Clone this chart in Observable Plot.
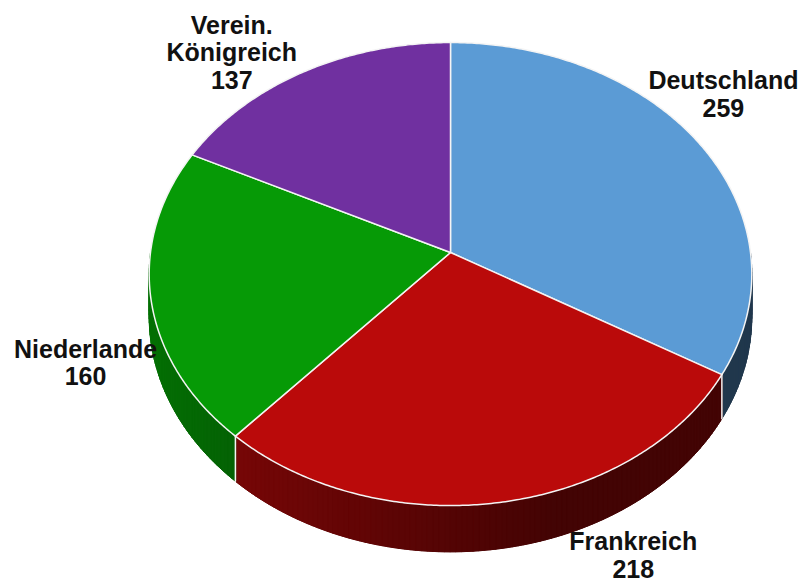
<!DOCTYPE html>
<html><head><meta charset="utf-8">
<script src="https://cdn.jsdelivr.net/npm/d3@7"></script>
<script src="https://cdn.jsdelivr.net/npm/@observablehq/plot@0.6"></script>
<style>body{margin:0;background:#fff}</style>
</head><body><div id="chart"></div>
<script>
// ---- data ----
const countries = ["Deutschland", "Frankreich", "Niederlande", "Verein. Königreich"];
const labelLines = [["Deutschland"], ["Frankreich"], ["Niederlande"], ["Verein.", "Königreich"]];
const values = [259, 218, 160, 137];
const colors = ["#5b9bd5", "#ba0a0a", "#069a06", "#7030a0"];
// label nudges relative to the slice's outer mid-point (in pie radius units)
const labelNudgeX = [0.08, 0.44, -0.217, -0.24];
const labelNudgeY = [-0.164, 0.176, 0.22, -0.064];

const data = countries.map((c, i) => ({
  country: c, value: values[i], color: colors[i],
  label: labelLines[i].join("\n") + "\n" + values[i]
}));
const arcs = d3.pie().sort(null).value(d => d.value)(data);

// perspective-tilted disk
const PERSP = -0.093, SQUASH = 0.765, DEPTH = 0.14;
function project(theta, r = 1, drop = false) {
  const s = Math.sin(theta), t = -Math.cos(theta);
  const den = 1 + PERSP * r * t;
  return {x: r * s / den, y: (SQUASH * r * t + (drop ? DEPTH : 0)) / den};
}
const shade = th => Math.max(0.36, 0.45 + 0.28 * (-Math.sin(th)));

// top faces
const tops = [];
const step = Math.PI / 360;
arcs.forEach(a => {
  const id = a.data.country, color = a.data.color;
  tops.push({id, color, x: 0, y: 0});
  const n = Math.ceil((a.endAngle - a.startAngle) / step);
  for (let i = 0; i <= n; i++) {
    const th = a.startAngle + (a.endAngle - a.startAngle) * i / n;
    tops.push({id, color, ...project(th)});
  }
});

// side walls (visible front half): a solid base plus shaded strips
const sideBase = [];
const sides = [];
arcs.forEach(a => {
  const lo = Math.max(a.startAngle, Math.PI / 2), hi = Math.min(a.endAngle, 3 * Math.PI / 2);
  if (hi <= lo) return;
  const n = Math.ceil((hi - lo) / (Math.PI / 180));
  const c = d3.rgb(a.data.color);
  const km = shade((lo + hi) / 2);
  const baseFill = d3.rgb(c.r * km, c.g * km, c.b * km).formatHex();
  const upper = [], lower = [];
  for (let i = 0; i <= n; i++) {
    const th = lo + (hi - lo) * i / n;
    upper.push(project(th));
    lower.push(project(th, 1, true));
  }
  upper.concat(lower.reverse()).forEach(p => sideBase.push({id: a.data.country, fill: baseFill, ...p}));
  for (let i = 0; i < n; i++) {
    const t0 = lo + (hi - lo) * i / n, t1 = lo + (hi - lo) * (i + 1) / n;
    const k = shade((t0 + t1) / 2);
    const fill = d3.rgb(c.r * k, c.g * k, c.b * k).formatHex();
    const id = a.data.country + "-" + i;
    [project(t0), project(t1), project(t1, 1, true), project(t0, 1, true)]
      .forEach(p => sides.push({id, fill, ...p}));
  }
});

// white edges where slices meet on the side wall
const edges = [];
arcs.forEach(a => {
  const th = a.startAngle;
  if (th > Math.PI / 2 && th < 3 * Math.PI / 2) {
    edges.push({id: a.data.country, ...project(th)});
    edges.push({id: a.data.country, ...project(th, 1, true)});
  }
});

// labels
const labels = arcs.map((a, i) => {
  const p = project((a.startAngle + a.endAngle) / 2);
  return {label: a.data.label, x: p.x + labelNudgeX[i], y: p.y + labelNudgeY[i]};
});

const chart = Plot.plot({
  width: 803, height: 583, margin: 0,
  x: {domain: [-1.5, 353 / 300], range: [0, 803], axis: null},
  y: {domain: [-0.84, 331 / 300], range: [0, 583], axis: null},
  style: {background: "#fff"},
  marks: [
    Plot.line(sideBase, {x: "x", y: "y", z: "id", fill: "fill", stroke: "fill", strokeWidth: 0.5, curve: "linear-closed"}),
    Plot.line(sides, {x: "x", y: "y", z: "id", fill: "fill", stroke: "fill", strokeWidth: 1, curve: "linear-closed"}),
    Plot.line(edges, {x: "x", y: "y", z: "id", stroke: "#f4f4f4", strokeWidth: 1.5}),
    Plot.line(tops, {x: "x", y: "y", z: "id", fill: "color", stroke: "#f4f4f4", strokeWidth: 1.5, curve: "linear-closed", strokeLinejoin: "round"}),
    Plot.text(labels, {x: "x", y: "y", text: "label", fontSize: 25, fontWeight: "bold", fill: "#111",
      lineHeight: 1.1, fontFamily: "'Liberation Sans', Arial, sans-serif"})
  ]
});
document.getElementById("chart").appendChild(chart);
</script>
</body></html>
